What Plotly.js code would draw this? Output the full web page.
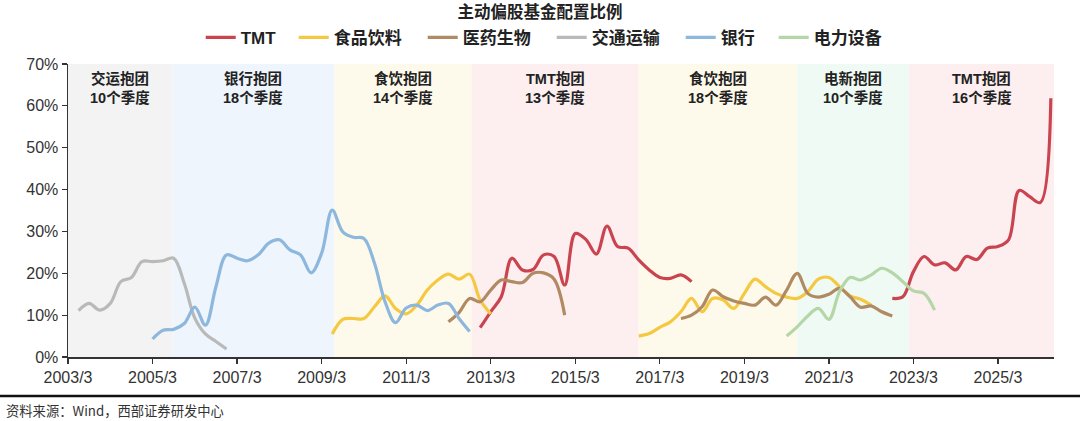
<!DOCTYPE html>
<html>
<head>
<meta charset="utf-8">
<script src="https://cdn.plot.ly/plotly-3.0.1.min.js"></script>
<style>
  html, body { margin: 0; padding: 0; background: #fff; }
  #chart { width: 1080px; height: 421px; }
</style>
</head>
<body>
<div id="chart"></div>
<script>
// ---- Data (quarter index 0 = 2003/3, one step = one quarter) ----
const tickLabels = ['2003/3','2005/3','2007/3','2009/3','2011/3','2013/3','2015/3','2017/3','2019/3','2021/3','2023/3','2025/3'];
const lastQuarter = 93;

const seriesNames = ['TMT','食品饮料','医药生物','交通运输','银行','电力设备'];

// Each series: segments, segment = [startQuarterIndex, values(%)]
const tmtSeg1Start = 39;
const tmtSeg1 = [7, 10.8, 14.4, 23.6, 20.8, 20.9, 24.4, 24, 17.2, 29.5, 28.1, 24.6, 31.3, 26.4, 26, 23.2, 20.8, 19, 18.8, 19.6, 18];
const tmtSeg2Start = 78;
const tmtSeg2 = [14, 14.4, 20.4, 24, 22, 22.5, 20.8, 24, 23.3, 26, 26.4, 28, 39.8, 38.3, 36.9, 61.8];

const foodSeg1Start = 25;
const foodSeg1 = [5.5, 9, 9.2, 9.2, 12, 14.6, 11.6, 10.3, 12.4, 16, 18.4, 19.8, 18.6, 19.8, 13.6, 10.3];
const foodSeg2Start = 54;
const foodSeg2 = [5, 5.6, 7.1, 8.4, 10.8, 14, 10.8, 14, 13.6, 11.6, 15.2, 18.6, 16.8, 15.2, 14.3, 14, 15.6, 18.6, 19, 16.8, 14.6, 13.8, 12.4];

const pharmaSeg1Start = 36;
const pharmaSeg1 = [8.4, 10.6, 14, 13.2, 16, 18.4, 18, 17.8, 20, 20.1, 18.6, 10];
const pharmaSeg2Start = 58;
const pharmaSeg2 = [9.2, 10, 12, 16, 14.4, 13.4, 12.8, 12.4, 14.3, 12.4, 16, 20, 15.2, 14.3, 15, 16.4, 14.4, 11.9, 12.2, 10.8, 9.8];

const transportStart = 1;
const transport = [11.1, 12.8, 11.2, 12.8, 18, 19, 22.8, 22.8, 23, 23.6, 17.6, 9.3, 5.5, 3.7, 1.9];

const bankStart = 8;
const bank = [4.3, 6.4, 6.6, 8, 11.9, 7.6, 16.8, 24.4, 23.6, 23, 24.4, 27.2, 28, 25.6, 24.4, 20.1, 24.8, 35.1, 29.9, 28.6, 28.3, 22.4, 13.2, 8.2, 11.7, 12.4, 11.1, 12.4, 12.8, 9.2, 6.1];

const powerStart = 68;
const power = [5, 7.2, 9.8, 11.6, 9, 15.6, 19, 18.4, 19.6, 21.2, 20.1, 18, 15.8, 15.2, 11.2];

// Crowding periods (quarter index boundaries) and labels
const bandStarts = [0, 9.9, 25.2, 38.2, 54, 69, 79.6];
const bandEnds   = [9.9, 25.2, 38.2, 54, 69, 79.6, 93.3];
const bandTitles = ['交运抱团','银行抱团','食饮抱团','TMT抱团','食饮抱团','电新抱团','TMT抱团'];
const bandQuarters = ['10个季度','18个季度','14个季度','13个季度','18个季度','10个季度','16个季度'];

// ---- Styles ----
const seriesColors = ['#c9444f', '#f5c842', '#b08a62', '#b9b9b9', '#8db7dc', '#b5d6a6'];
const bandColors = ['#f3f3f3', '#eef5fc', '#fefaeb', '#fdeef0', '#fefaeb', '#eefaf3', '#fdeef0'];
const legendWidths = [48, 84, 84, 84, 48, 84];

function buildY(segments) {
  const y = new Array(lastQuarter + 1).fill(null);
  segments.forEach(([start, vals]) => vals.forEach((v, i) => { y[start + i] = v; }));
  return y;
}
const xs = Array.from({length: lastQuarter + 1}, (_, i) => i);

const seriesSegments = [
  [[tmtSeg1Start, tmtSeg1], [tmtSeg2Start, tmtSeg2]],
  [[foodSeg1Start, foodSeg1], [foodSeg2Start, foodSeg2]],
  [[pharmaSeg1Start, pharmaSeg1], [pharmaSeg2Start, pharmaSeg2]],
  [[transportStart, transport]],
  [[bankStart, bank]],
  [[powerStart, power]]
];

const traces = seriesNames.map((name, k) => ({
  type: 'scatter',
  mode: 'lines',
  name: name,
  x: xs,
  y: buildY(seriesSegments[k]),
  connectgaps: false,
  legendwidth: legendWidths[k],
  line: { color: seriesColors[k], width: 3.2, shape: 'spline', smoothing: 1 },
  hoverinfo: 'skip'
}));

const tickvals = tickLabels.map(t => (parseInt(t.split('/')[0], 10) - 2003) * 4);

const shapes = bandStarts.map((s, i) => ({
  type: 'rect', xref: 'x', yref: 'paper', x0: s, x1: bandEnds[i], y0: 0, y1: 1,
  fillcolor: bandColors[i], line: { width: 0 }, layer: 'below'
}));
shapes.push({
  type: 'line', xref: 'paper', yref: 'paper',
  x0: -0.07, x1: 1.03, y0: -0.133, y1: -0.133,
  line: { color: '#111', width: 2.5 }
});

const mixedFont = '"Liberation Sans", Arial, "Noto Sans CJK SC", sans-serif';
const annotations = [];
bandStarts.forEach((s, i) => {
  const xm = (s + bandEnds[i]) / 2;
  annotations.push({
    xref: 'x', yref: 'paper', x: xm, y: 0.952, xanchor: 'center', yanchor: 'middle', showarrow: false,
    text: bandTitles[i], font: { family: mixedFont, size: 14.5, color: '#222', weight: 'bold' }
  });
  annotations.push({
    xref: 'x', yref: 'paper', x: xm, y: 0.887, xanchor: 'center', yanchor: 'middle', showarrow: false,
    text: bandQuarters[i], font: { family: mixedFont, size: 14.5, color: '#222', weight: 'bold' }
  });
});
annotations.push({
  xref: 'paper', yref: 'paper', x: -0.0645, y: -0.184,
  xanchor: 'left', yanchor: 'middle', showarrow: false,
  text: '资料来源：Wind，西部证券研发中心',
  font: { family: '"Noto Sans CJK SC", sans-serif', size: 13.3, color: '#333' }
});

const layout = {
  width: 1080, height: 421,
  margin: { l: 68, r: 26, t: 64, b: 64 },
  paper_bgcolor: '#fff', plot_bgcolor: '#fff',
  font: { family: mixedFont, color: '#333' },
  title: {
    text: '主动偏股基金配置比例',
    x: 0.5, xanchor: 'center', y: 0.972, yanchor: 'middle',
    font: { family: '"Noto Sans CJK SC", sans-serif', size: 16.5, color: '#222', weight: 'bold' }
  },
  showlegend: true,
  legend: {
    orientation: 'h', x: 0.1346, xanchor: 'left', y: 1.089, yanchor: 'middle',
    font: { family: mixedFont, size: 17, color: '#222', weight: 'bold' },
    itemwidth: 30, tracegroupgap: 0, bgcolor: 'rgba(0,0,0,0)', borderwidth: 0
  },
  xaxis: {
    range: [0, 93.3], tickmode: 'array', tickvals: tickvals, ticktext: tickLabels,
    showgrid: false, zeroline: false, showline: true, linecolor: '#333', linewidth: 1.5,
    ticks: 'outside', ticklen: 5, tickcolor: '#333', tickwidth: 1.2,
    tickfont: { size: 16, color: '#333' }, fixedrange: true
  },
  yaxis: {
    range: [0, 70], dtick: 10, ticksuffix: '%',
    showgrid: false, zeroline: false, showline: true, linecolor: '#333', linewidth: 1.5,
    ticks: 'outside', ticklen: 5, tickcolor: '#333', tickwidth: 1.2,
    tickfont: { size: 16, color: '#333' }, fixedrange: true
  },
  shapes: shapes,
  annotations: annotations
};

Plotly.newPlot('chart', traces, layout, { displayModeBar: false, staticPlot: true });
</script>
</body>
</html>
